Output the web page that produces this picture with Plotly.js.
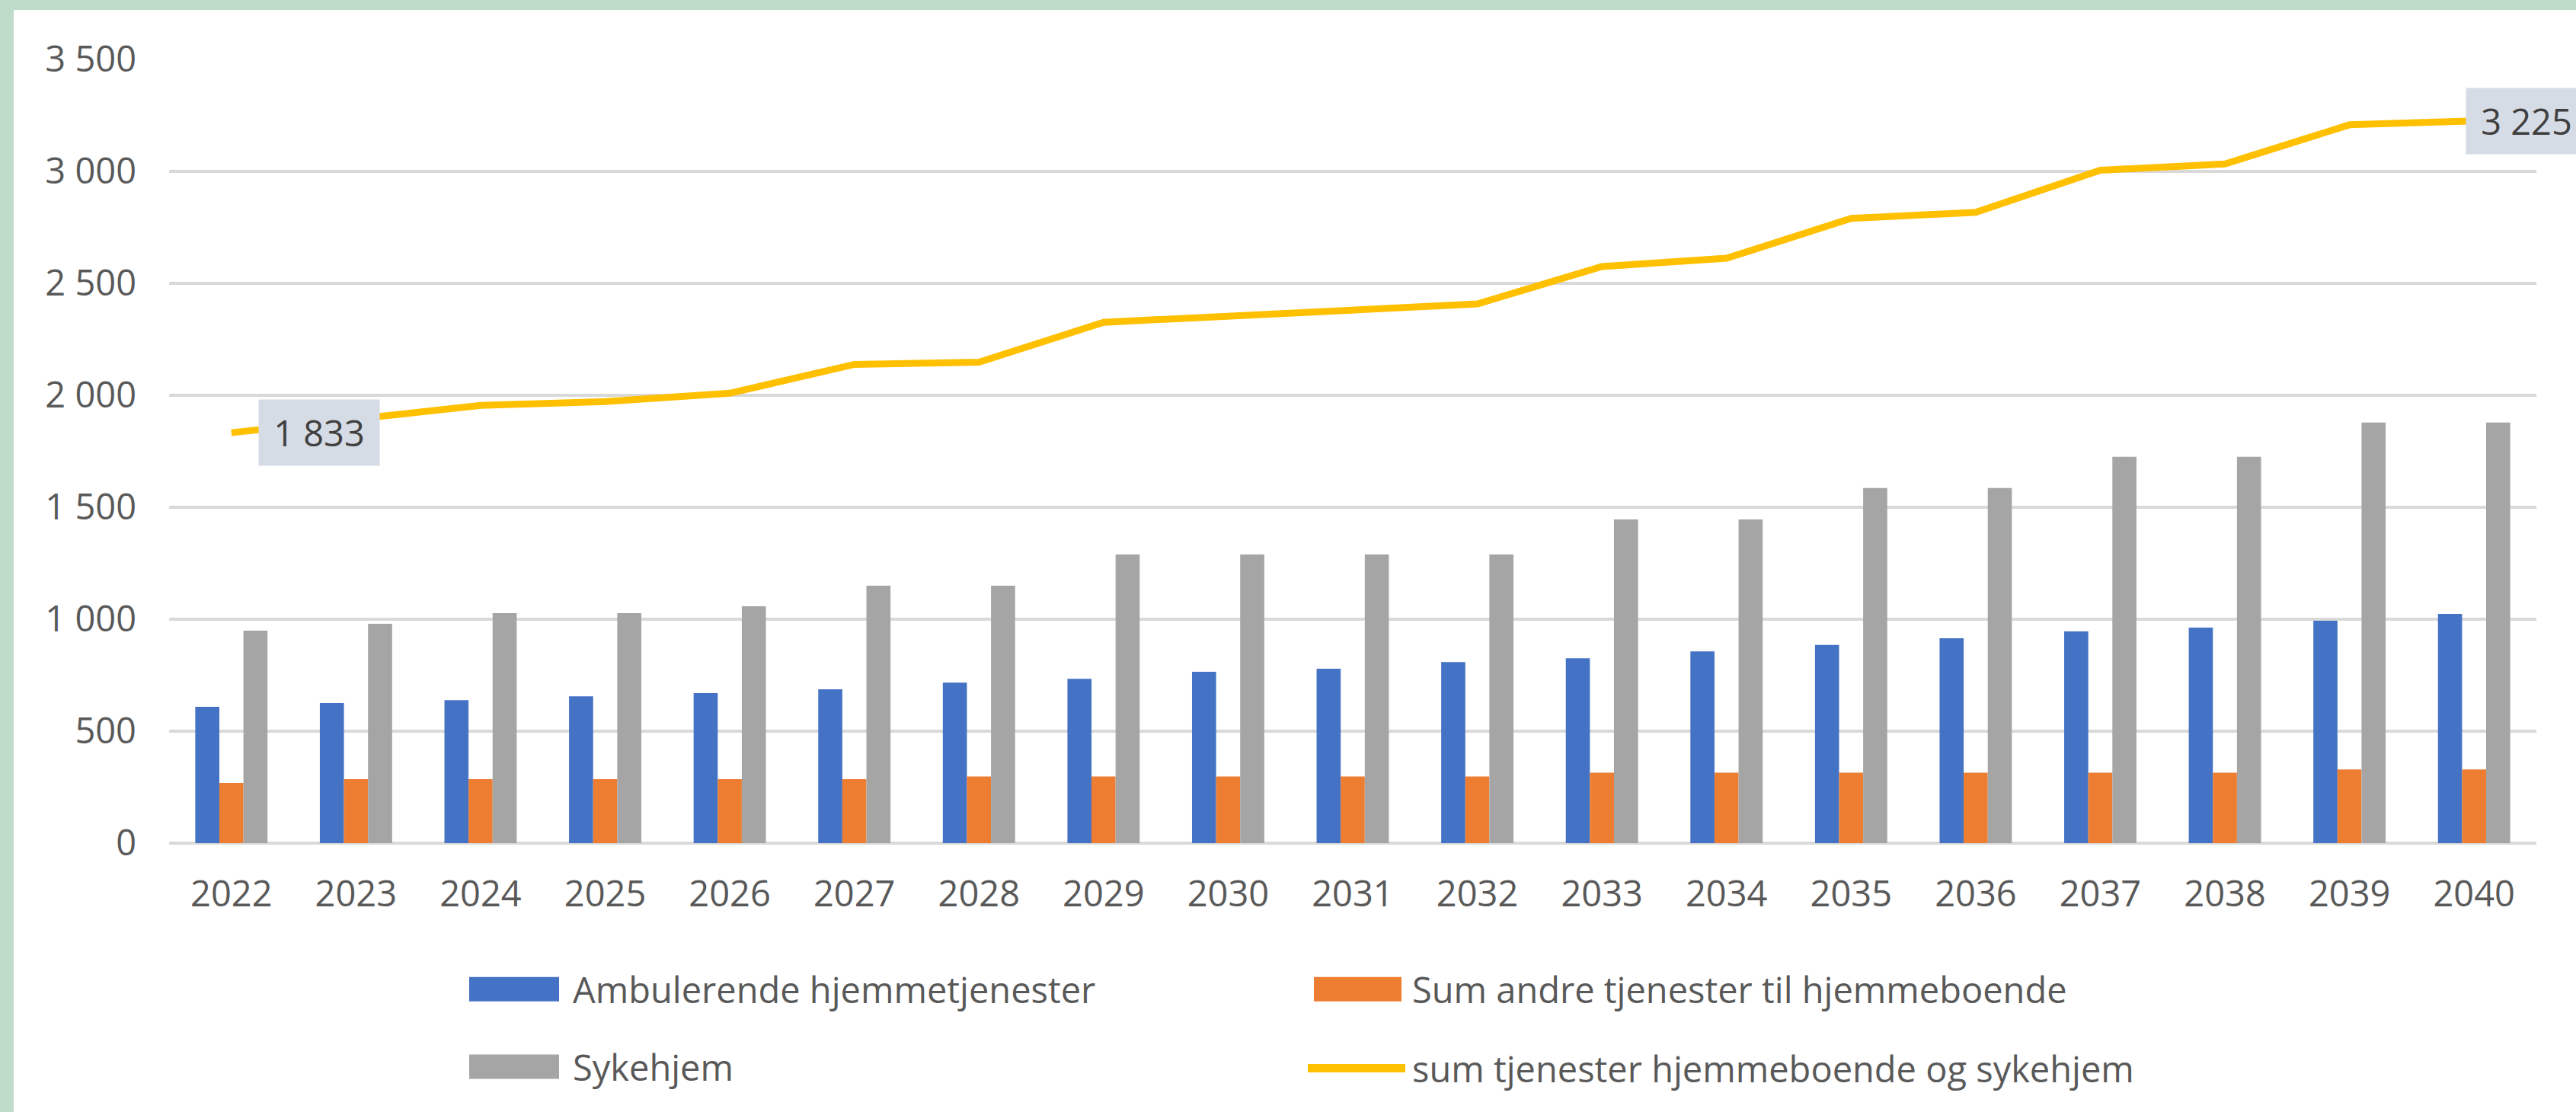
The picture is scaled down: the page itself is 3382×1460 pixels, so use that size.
<!DOCTYPE html>
<html><head><meta charset="utf-8">
<script src="https://cdn.plot.ly/plotly-3.0.1.min.js"></script>
<style>
html,body{margin:0;padding:0;background:#bfdcca;width:3382px;height:1460px;overflow:hidden}
#chart{position:absolute;left:18px;top:13px;width:3364px;height:1447px;background:#fff}
</style></head><body><div id="chart"></div>
<script>
// ---- data ----
const years = ["2022","2023","2024","2025","2026","2027","2028","2029","2030","2031","2032","2033","2034","2035","2036","2037","2038","2039","2040"];
const ambulerende = [609, 626, 639, 656, 670, 687, 717, 734, 765, 779, 809, 826, 856, 885, 915, 946, 963, 993, 1024];
const andreTjenester = [269, 286, 286, 286, 286, 286, 298, 298, 298, 298, 298, 315, 315, 315, 315, 315, 315, 329, 329];
const sykehjem = [949, 980, 1027, 1027, 1058, 1150, 1150, 1289, 1289, 1289, 1289, 1446, 1446, 1586, 1586, 1725, 1725, 1878, 1878];
const sumTjenester = [1833, 1895, 1955, 1972, 2009, 2138, 2148, 2326, 2353, 2380, 2408, 2575, 2612, 2790, 2817, 3005, 3033, 3208, 3225];
const seriesNames = ["Ambulerende hjemmetjenester", "Sum andre tjenester til hjemmeboende", "Sykehjem", "sum tjenester hjemmeboende og sykehjem"];
const yTicks = [0, 500, 1000, 1500, 2000, 2500, 3000, 3500];

// ---- styling ----
const colors = ["#4472c4", "#ed7d31", "#a5a5a5", "#ffc000"];
const FONT = "Open Sans, Noto Sans, sans-serif";
const TXT = "#595959";
const fmt = v => String(v).replace(/\B(?=(\d{3})+(?!\d))/g, " ");

// plot area in page pixels: x 222..3330, y 78..1107.3
const PX0 = 222, PW = 3108, PY0 = 1107.3, PH = 1029.3;
const px = p => (p - PX0) / PW;
const py = p => (PY0 - p) / PH;

const traces = [
  {type: "bar", name: seriesNames[0], x: years, y: ambulerende, marker: {color: colors[0]}},
  {type: "bar", name: seriesNames[1], x: years, y: andreTjenester, marker: {color: colors[1]}},
  {type: "bar", name: seriesNames[2], x: years, y: sykehjem, marker: {color: colors[2]}},
  {type: "scatter", mode: "lines", name: seriesNames[3], x: years, y: sumTjenester,
   line: {color: colors[3], width: 9}}
];

const last = years.length - 1;
const annotations = [
  {x: 0, y: sumTjenester[0], xref: "x", yref: "y", text: fmt(sumTjenester[0]), showarrow: false,
   xshift: 115, bgcolor: "#d6dce5", width: 150, height: 78, borderpad: 4, font: {family: FONT, size: 47, color: "#404040"}},
  {x: last, y: sumTjenester[last], xref: "x", yref: "y", text: fmt(sumTjenester[last]), showarrow: false,
   xshift: 69, bgcolor: "#d6dce5", width: 150, height: 78, borderpad: 4, font: {family: FONT, size: 47, color: "#404040"}}
];

// custom legend (Excel style wide swatches)
const legendPos = [
  {x0: 616, x1: 734, yc: 1299, tx: 750, kind: "rect"},
  {x0: 1725, x1: 1840, yc: 1299, tx: 1852, kind: "rect"},
  {x0: 616, x1: 734, yc: 1401, tx: 750, kind: "rect"},
  {x0: 1717, x1: 1845, yc: 1403, tx: 1852, kind: "line"}
];
const shapes = [];
legendPos.forEach((p, i) => {
  if (p.kind === "rect") {
    shapes.push({type: "rect", xref: "paper", yref: "paper", x0: px(p.x0), x1: px(p.x1),
      y0: py(p.yc + 16), y1: py(p.yc - 16), fillcolor: colors[i], line: {width: 0}});
  } else {
    shapes.push({type: "line", xref: "paper", yref: "paper", x0: px(p.x0), x1: px(p.x1),
      y0: py(p.yc), y1: py(p.yc), line: {color: colors[i], width: 11}});
  }
  annotations.push({xref: "paper", yref: "paper", x: px(p.tx), y: py(p.yc), xanchor: "left", yanchor: "middle",
    text: seriesNames[i], showarrow: false, font: {family: FONT, size: 47, color: TXT}});
});

const layout = {
  width: 3364, height: 1447,
  margin: {l: 204, r: 52, t: 65, b: 353, pad: 0},
  paper_bgcolor: "#ffffff", plot_bgcolor: "#ffffff",
  font: {family: FONT, size: 47, color: TXT},
  separators: ", ",
  showlegend: false,
  barmode: "group", bargap: 0.42, bargroupgap: 0,
  xaxis: {type: "category", range: [-0.5, years.length - 0.5], autorange: false,
          showgrid: false, showline: false, zeroline: false, ticks: "",
          tickfont: {family: FONT, size: 47, color: TXT}, ticklabelstandoff: 35, automargin: false},
  yaxis: {range: [0, 3500], autorange: false, tickvals: yTicks, ticktext: yTicks.map(fmt), showgrid: true, gridcolor: "#d9d9d9", gridwidth: 4,
          zeroline: true, zerolinecolor: "#d9d9d9", zerolinewidth: 4, showline: false, ticks: "",
          tickfont: {family: FONT, size: 47, color: TXT}, ticklabelstandoff: 42, automargin: false},
  shapes: shapes,
  annotations: annotations
};

Plotly.newPlot("chart", traces, layout, {displayModeBar: false, staticPlot: true});
</script></body></html>
